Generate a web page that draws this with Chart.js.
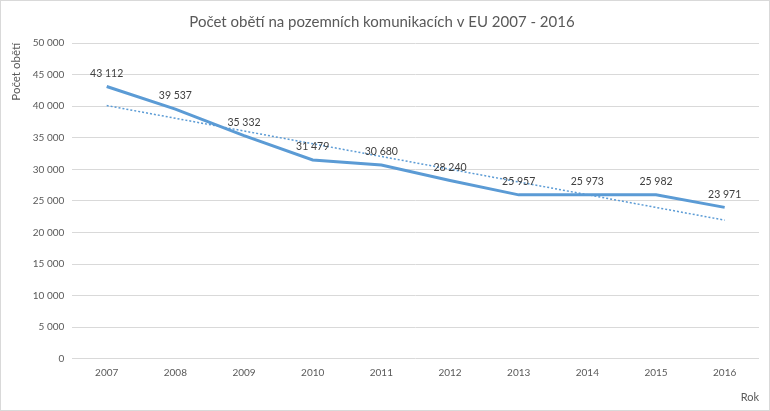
<!DOCTYPE html>
<html>
<head>
<meta charset="utf-8">
<script src="https://cdn.jsdelivr.net/npm/chart.js@4/dist/chart.umd.min.js"></script>
<style>
  html, body { margin: 0; padding: 0; background: #fff; }
  #wrap { width: 768px; height: 409px; border: 1px solid #d9d9d9; }
</style>
</head>
<body>
<div id="wrap"><canvas id="c" width="768" height="409"></canvas></div>
<script>
// data
const years = ["2007", "2008", "2009", "2010", "2011", "2012", "2013", "2014", "2015", "2016"];
const deaths = [43112, 39537, 35332, 31479, 30680, 28240, 25957, 25973, 25982, 23971];
// linear trendline, ends
const trend = [40100, null, null, null, null, null, null, null, null, 21950];

const blue = "#5b9bd5";
const grey = "#595959";
const font = "Lato, 'Open Sans', sans-serif";

function fmt(v) {
  return String(v).replace(/\B(?=(\d{3})+(?!\d))/g, " ");
}

const pointLabels = {
  id: "pointLabels",
  afterDatasetsDraw(chart) {
    const ctx = chart.ctx;
    const meta = chart.getDatasetMeta(0);
    ctx.save();
    ctx.font = "10.5px " + font;
    ctx.fillStyle = "#404040";
    ctx.textAlign = "center";
    ctx.textBaseline = "middle";
    meta.data.forEach((pt, i) => {
      ctx.fillText(fmt(deaths[i]), pt.x, pt.y - 13);
    });
    ctx.restore();
  }
};

new Chart(document.getElementById("c"), {
  type: "line",
  data: {
    labels: years,
    datasets: [
      {
        data: deaths,
        borderColor: blue,
        borderWidth: 3,
        pointRadius: 0,
        tension: 0
      },
      {
        data: trend,
        borderColor: blue,
        borderWidth: 1.5,
        borderDash: [2, 2],
        pointRadius: 0,
        spanGaps: true
      }
    ]
  },
  options: {
    responsive: false,
    animation: false,
    layout: { padding: { left: 4, right: 10, top: 4, bottom: 6 } },
    plugins: {
      legend: { display: false },
      tooltip: { enabled: false },
      title: {
        display: true,
        text: "Počet obětí na pozemních komunikacích v EU 2007 - 2016",
        color: grey,
        font: { family: font, size: 15, weight: "normal" },
        padding: { top: 8, bottom: 12 }
      }
    },
    scales: {
      x: {
        offset: true,
        grid: { display: false },
        border: { display: false },
        ticks: { color: grey, font: { family: font, size: 10 }, padding: 0 },
        title: {
          display: true,
          text: "Rok",
          align: "end",
          color: grey,
          font: { family: font, size: 11 },
          padding: { top: 12, bottom: 0 }
        }
      },
      y: {
        min: 0,
        max: 50000,
        ticks: {
          stepSize: 5000,
          color: grey,
          font: { family: font, size: 10 },
          padding: 8,
          callback: v => fmt(v)
        },
        grid: { color: "#d9d9d9", drawTicks: false },
        border: { display: false },
        title: {
          display: true,
          text: "Počet obětí",
          align: "end",
          color: grey,
          font: { family: font, size: 11.5 },
          padding: { bottom: 2 }
        }
      }
    }
  },
  plugins: [pointLabels]
});
</script>
</body>
</html>
